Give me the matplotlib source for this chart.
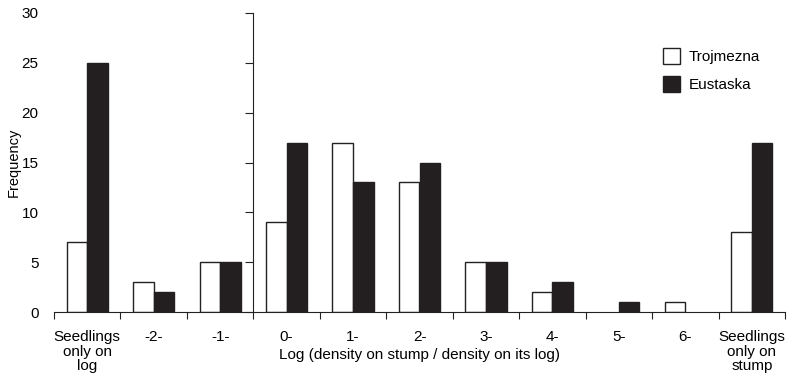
import matplotlib
matplotlib.use("Agg")
import matplotlib.pyplot as plt
import numpy as np

plt.rcParams["font.family"] = ["Liberation Sans", "DejaVu Sans"]

categories = ["Seedlings\nonly on\nlog", "-2-", "-1-", "0-", "1-", "2-", "3-",
              "4-", "5-", "6-", "Seedlings\nonly on\nstump"]
trojmezna = [7, 3, 5, 9, 17, 13, 5, 2, 0, 1, 8]
eustaska = [25, 2, 5, 17, 13, 15, 5, 3, 1, 0, 17]
series_names = ["Trojmezna", "Eustaska"]

bar_width = 0.31
font_size = 11

fig = plt.figure(figsize=(7.88, 3.8), dpi=100)
ax = fig.add_axes([54 / 788, 1 - 312 / 380, 731 / 788, 299 / 380])

x = np.arange(len(categories))
# zero-height bars get no outline
lw_t = [1.0 if v > 0 else 0 for v in trojmezna]
lw_e = [1.0 if v > 0 else 0 for v in eustaska]
ax.bar(x - bar_width / 2, trojmezna, width=bar_width, color="white",
       edgecolor="#222222", linewidth=lw_t, label=series_names[0])
ax.bar(x + bar_width / 2, eustaska, width=bar_width, color="#231f20",
       edgecolor="#231f20", linewidth=lw_e, label=series_names[1])

ax.set_xlim(-0.5, len(categories) - 0.5)
ax.set_ylim(0, 30)

# x axis: ticks between categories, labels at centres
ax.set_xticks(np.arange(-0.5, len(categories)), minor=False)
ax.set_xticklabels([])
ax.set_xticks(x, minor=True)
ax.set_xticklabels(categories, minor=True, fontsize=font_size, linespacing=1.05)
ax.tick_params(axis="x", which="major", direction="out", length=5, width=0.8, color="#222222")
ax.tick_params(axis="x", which="minor", length=0, pad=13)

# y labels at the far left, no spine there
ax.set_yticks([0, 5, 10, 15, 20, 25, 30])
ax.tick_params(axis="y", length=0, pad=11, labelsize=font_size)
for side in ["left", "top", "right"]:
    ax.spines[side].set_visible(False)
ax.spines["bottom"].set_linewidth(0.8)
ax.spines["bottom"].set_color("#222222")

# y spine drawn at the boundary between -1- and 0-
sec = ax.secondary_yaxis(3 / len(categories))
sec.set_yticks([0, 5, 10, 15, 20, 25, 30])
sec.tick_params(axis="y", direction="out", length=6, width=0.8, labelleft=False, color="#222222")
sec.spines["left"].set_linewidth(0.8)
sec.spines["left"].set_color("#222222")

ax.set_ylabel("Frequency", fontsize=font_size - 0.5)
ax.yaxis.set_label_coords(-0.045, 0.5)
ax.set_xlabel("Log (density on stump / density on its log)", fontsize=font_size)
ax.xaxis.set_label_coords(0.5, -0.12)

ax.legend(loc="upper right", bbox_to_anchor=(0.985, 0.93), frameon=False,
          fontsize=font_size, handlelength=1.1, handleheight=1.3,
          handletextpad=0.6, labelspacing=0.75)

plt.savefig("out.png", dpi=100)
